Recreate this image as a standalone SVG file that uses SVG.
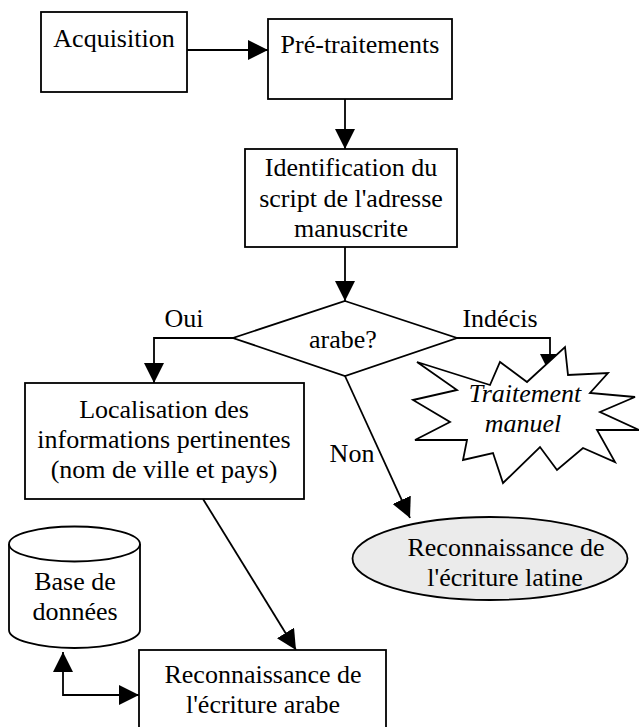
<svg xmlns="http://www.w3.org/2000/svg" width="639" height="727" viewBox="0 0 639 727">
<style>
.box{fill:#fff;stroke:#000;stroke-width:1.8}
.ln{fill:none;stroke:#000;stroke-width:1.8}
text{font-family:"Liberation Serif","Times New Roman",serif;font-size:26px;fill:#000;text-anchor:middle}
.it{font-style:italic}
</style>
<defs>
<marker id="ah" markerUnits="userSpaceOnUse" markerWidth="20" markerHeight="20" viewBox="0 0 20 20" refX="20" refY="10" orient="auto-start-reverse">
<path d="M0,0 L20,10 L0,20 z" fill="#000"/>
</marker>
</defs>
<rect width="639" height="727" fill="#fff"/>
<g id="connectors">
<path class="ln" d="M187,50 L268,50" marker-end="url(#ah)"/>
<path class="ln" d="M345,99 L345,149" marker-end="url(#ah)"/>
<path class="ln" d="M345,247 L345,301" marker-end="url(#ah)"/>
<path class="ln" d="M233,338 L154,338 L154,383" marker-end="url(#ah)"/>
<path class="ln" d="M457,338 L550,338 L550,374" marker-end="url(#ah)"/>
<path class="ln" d="M345,376 L410,518" marker-end="url(#ah)"/>
<path class="ln" d="M203,499 L296,650" marker-end="url(#ah)"/>
<path class="ln" d="M63,652 L63,695 L139,695" marker-start="url(#ah)" marker-end="url(#ah)"/>
<text x="184" y="327">Oui</text>
<text x="500" y="327">Indécis</text>
<text x="352" y="462">Non</text>
</g>
<g id="acquisition">
<rect class="box" x="41" y="12" width="146" height="80"/>
<text x="114" y="47">Acquisition</text>
</g>
<g id="pretraitements">
<rect class="box" x="268" y="19" width="184" height="80"/>
<text x="360" y="53">Pré-traitements</text>
</g>
<g id="identification">
<rect class="box" x="245" y="149" width="212" height="98"/>
<text x="351" y="176">Identification du</text>
<text x="351" y="207">script de l'adresse</text>
<text x="351" y="237">manuscrite</text>
</g>
<g id="decision">
<polygon class="box" points="345,301 457,338 345,376 233,338"/>
<text x="343" y="348">arabe?</text>
</g>
<g id="traitement">
<polygon class="box" points="417,362 490,385 500,362 527,382 565,347 568,375 608,373 590,393 635,397 600,412 639,430 597,430 615,462 583,448 557,470 540,447 503,483 493,453 463,460 467,440 415,440 450,422 413,400 457,390"/>
<text class="it" x="525" y="402">Traitement</text>
<text class="it" x="523" y="432">manuel</text>
</g>
<g id="localisation">
<rect class="box" x="25" y="383" width="279" height="116"/>
<text x="164" y="418">Localisation des</text>
<text x="164" y="448">informations pertinentes</text>
<text x="164" y="478">(nom de ville et pays)</text>
</g>
<g id="latine">
<ellipse cx="490" cy="558.5" rx="137.5" ry="41.5" fill="#ebebeb" stroke="#000" stroke-width="1.8"/>
<text x="506" y="556">Reconnaissance de</text>
<text x="505" y="586">l'écriture latine</text>
</g>
<g id="base">
<path class="box" d="M9,544 L9,630 A65.5,18 0 0 0 140,630 L140,544 A65.5,17.5 0 0 0 9,544 Z"/>
<path class="ln" d="M9,544 A65.5,17.5 0 0 0 140,544"/>
<text x="75" y="590">Base de</text>
<text x="75" y="620">données</text>
</g>
<g id="arabe">
<rect class="box" x="139" y="650" width="247" height="90"/>
<text x="263" y="683">Reconnaissance de</text>
<text x="263" y="713">l'écriture arabe</text>
</g>
</svg>
